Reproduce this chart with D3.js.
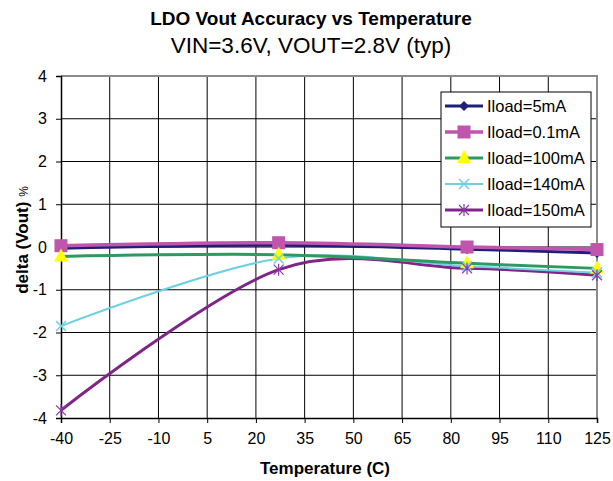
<!DOCTYPE html>
<html>
<head>
<meta charset="utf-8">
<script src="https://cdn.jsdelivr.net/npm/d3@7"></script>
<style>
  body { margin: 0; background: #fff; }
  svg { font-family: "Liberation Sans", Arial, sans-serif; }
</style>
</head>
<body>
<svg id="chart" width="613" height="481"></svg>
<script>
// ---------------- DATA ----------------
const temps = [-40, 27, 85, 125];
const seriesNames = ["Iload=5mA", "Iload=0.1mA", "Iload=100mA", "Iload=140mA", "Iload=150mA"];
const load5mA = [-0.03, 0.04, -0.05, -0.14];
const load01mA = [0.03, 0.1, 0.0, -0.06];
const load100mA = [-0.22, -0.18, -0.38, -0.5];
const load140mA = [-1.85, -0.27, -0.45, -0.6];
const load150mA = [-3.82, -0.53, -0.5, -0.66];
const xTicks = [-40, -25, -10, 5, 20, 35, 50, 65, 80, 95, 110, 125];
const yTicks = [-4, -3, -2, -1, 0, 1, 2, 3, 4];

const svg = d3.select("#chart");

// plot area
const plotLeft = 61, plotRight = 597, plotTop = 76, plotBottom = 418;

const x = d3.scaleLinear().domain([-40, 125]).range([plotLeft, plotRight]);
const y = d3.scaleLinear().domain([-4, 4]).range([plotBottom, plotTop]);

// ---------------- TITLE ----------------
svg.append("text")
  .attr("x", 311).attr("y", 25)
  .attr("text-anchor", "middle")
  .attr("font-size", 19)
  .attr("font-weight", "bold")
  .text("LDO Vout Accuracy vs Temperature");
svg.append("text")
  .attr("x", 311).attr("y", 53)
  .attr("text-anchor", "middle")
  .attr("font-size", 22.5)
  .text("VIN=3.6V, VOUT=2.8V (typ)");

// ---------------- GRID ----------------
svg.append("g")
  .selectAll("line")
  .data(yTicks.slice(1, -1))
  .join("line")
  .attr("x1", plotLeft).attr("x2", plotRight)
  .attr("y1", d => y(d)).attr("y2", d => y(d))
  .attr("stroke", "#000").attr("stroke-width", 1);

svg.append("g")
  .selectAll("line")
  .data(xTicks.slice(1, -1))
  .join("line")
  .attr("x1", d => x(d)).attr("x2", d => x(d))
  .attr("y1", plotTop).attr("y2", plotBottom)
  .attr("stroke", "#000").attr("stroke-width", 1);

// gray top/right border
svg.append("path")
  .attr("d", `M${plotLeft},${plotTop}H${plotRight}V${plotBottom}`)
  .attr("fill", "none")
  .attr("stroke", "#8c8c8c")
  .attr("stroke-width", 2);

// ---------------- AXES ----------------
const xAxis = svg.append("g")
  .attr("transform", `translate(0,${plotBottom})`)
  .call(d3.axisBottom(x).tickValues(xTicks).tickSize(5).tickPadding(10).tickFormat(d => String(d)));
const yAxis = svg.append("g")
  .attr("transform", `translate(${plotLeft},0)`)
  .call(d3.axisLeft(y).tickValues(yTicks).tickSize(5).tickPadding(9).tickFormat(d => String(d)));

[xAxis, yAxis].forEach(g => {
  g.select(".domain").attr("stroke", "#000").attr("stroke-width", 1.5);
  g.selectAll(".tick line").attr("stroke", "#000");
  g.selectAll("text")
    .attr("font-family", "Liberation Sans, Arial, sans-serif")
    .attr("font-size", 16)
    .attr("fill", "#000");
});

// axis titles
svg.append("text")
  .attr("x", 325).attr("y", 474)
  .attr("text-anchor", "middle")
  .attr("font-size", 17)
  .attr("font-weight", "bold")
  .text("Temperature (C)");

const yTitle = svg.append("text")
  .attr("transform", "translate(28,240) rotate(-90)")
  .attr("text-anchor", "middle")
  .attr("font-size", 17)
  .attr("font-weight", "bold");
yTitle.append("tspan").text("delta (Vout) ");
yTitle.append("tspan").attr("font-weight", "normal").attr("font-size", 12).text("%");

// ---------------- SERIES ----------------
const series = [
  { name: seriesNames[0], values: load5mA, color: "#1f1f7a", width: 3, marker: "diamond" },
  { name: seriesNames[1], values: load01mA, color: "#bf55ad", width: 3.5, marker: "square" },
  { name: seriesNames[2], values: load100mA, color: "#2e9a62", width: 3, marker: "triangle" },
  { name: seriesNames[3], values: load140mA, color: "#6fd0e2", width: 2, marker: "x" },
  { name: seriesNames[4], values: load150mA, color: "#7e2587", width: 3, marker: "star" }
];

const line = d3.line()
  .x(d => x(d[0]))
  .y(d => y(d[1]))
  .curve(d3.curveCardinal.tension(0));

// draw lines so the low-current series end up on top
const drawOrder = [4, 3, 2, 0, 1];
drawOrder.forEach(i => {
  const s = series[i];
  svg.append("path")
    .datum(temps.map((t, j) => [t, s.values[j]]))
    .attr("fill", "none")
    .attr("stroke", s.color)
    .attr("stroke-width", s.width)
    .attr("d", line);
});

function drawMarker(g, type, cx, cy, color) {
  if (type === "diamond") {
    g.append("path")
      .attr("d", `M${cx},${cy - 5}L${cx + 5},${cy}L${cx},${cy + 5}L${cx - 5},${cy}Z`)
      .attr("fill", "#1f1f7a");
  } else if (type === "square") {
    g.append("rect")
      .attr("x", cx - 6.5).attr("y", cy - 6.5)
      .attr("width", 13).attr("height", 13)
      .attr("fill", color);
  } else if (type === "triangle") {
    g.append("path")
      .attr("d", `M${cx},${cy - 8}L${cx + 7},${cy + 5}L${cx - 7},${cy + 5}Z`)
      .attr("fill", "#ffff00");
  } else if (type === "x") {
    g.append("path")
      .attr("d", `M${cx - 5},${cy - 5}L${cx + 5},${cy + 5}M${cx + 5},${cy - 5}L${cx - 5},${cy + 5}`)
      .attr("stroke", color).attr("stroke-width", 1.5);
  } else if (type === "star") {
    g.append("path")
      .attr("d", `M${cx - 5},${cy - 5}L${cx + 5},${cy + 5}M${cx + 5},${cy - 5}L${cx - 5},${cy + 5}M${cx},${cy - 6}L${cx},${cy + 6}`)
      .attr("stroke", "#8a3aa0").attr("stroke-width", 1.2);
  }
}

series.forEach(s => {
  const g = svg.append("g");
  temps.forEach((t, j) => drawMarker(g, s.marker, x(t), y(s.values[j]), s.color));
});

// ---------------- LEGEND ----------------
const legend = svg.append("g");
legend.append("rect")
  .attr("x", 441).attr("y", 92)
  .attr("width", 150).attr("height", 135)
  .attr("fill", "#fff")
  .attr("stroke", "#000").attr("stroke-width", 1);

series.forEach((s, i) => {
  const ly = 106 + i * 26;
  legend.append("line")
    .attr("x1", 445).attr("x2", 483)
    .attr("y1", ly).attr("y2", ly)
    .attr("stroke", s.color).attr("stroke-width", s.width);
  drawMarker(legend, s.marker, 464, ly, s.color);
  legend.append("text")
    .attr("x", 487).attr("y", ly + 6)
    .attr("font-size", 16.5)
    .text(s.name);
});
</script>
</body>
</html>
